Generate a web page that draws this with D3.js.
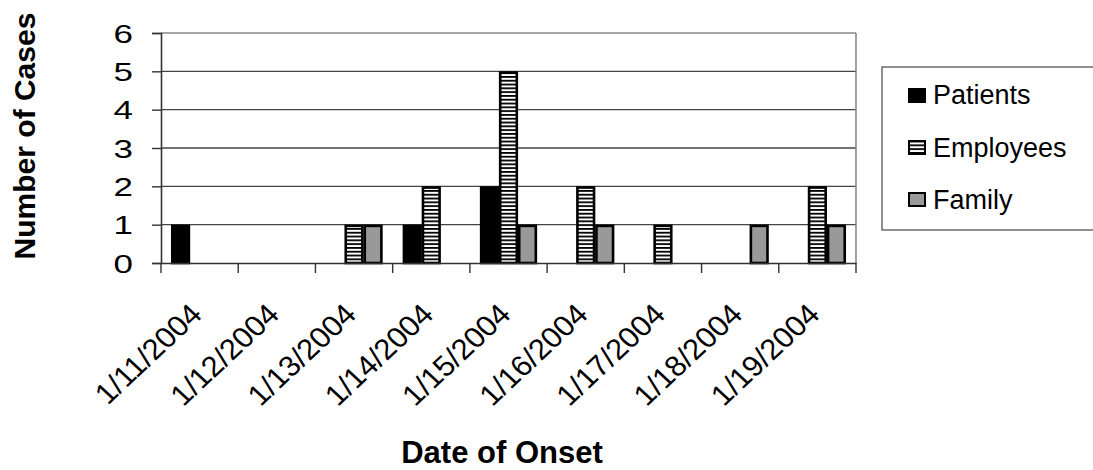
<!DOCTYPE html>
<html>
<head>
<meta charset="utf-8">
<script src="https://cdn.jsdelivr.net/npm/d3@7"></script>
<style>
  html, body { margin: 0; padding: 0; background: #fff; }
  svg { display: block; font-family: "Liberation Sans", Arial, sans-serif; }
</style>
</head>
<body>
<svg id="chart" width="1093" height="470"></svg>
<script>
const dates = ["1/11/2004","1/12/2004","1/13/2004","1/14/2004","1/15/2004","1/16/2004","1/17/2004","1/18/2004","1/19/2004"];
const seriesNames = ["Patients","Employees","Family"];
const patients  = [1,0,0,1,2,0,0,0,0];
const employees = [0,0,1,2,5,2,1,0,2];
const family    = [0,0,1,0,1,1,0,1,1];
const yTicks = [0,1,2,3,4,5,6];

const seriesValues = [patients, employees, family];

const svg = d3.select("#chart");
const L = 161, R = 856, T = 33, B = 263;

const x = d3.scaleBand().domain(dates).range([L, R]).paddingInner(0).paddingOuter(0);
const xs = d3.scaleBand().domain(seriesNames).range([0, x.bandwidth()]).paddingInner(0).paddingOuter(0.53);
const y = d3.scaleLinear().domain([0, 6]).range([B, T]);

// pattern for employees
const defs = svg.append("defs");
const pat = defs.append("pattern").attr("id","stripes").attr("patternUnits","userSpaceOnUse")
  .attr("width", 6).attr("height", 3.8);
pat.append("rect").attr("width", 6).attr("height", 3.8).attr("fill", "#fff");
pat.append("rect").attr("y", 0).attr("width", 6).attr("height", 1.8).attr("fill", "#000");

const fills = {"Patients": "#000", "Employees": "url(#stripes)", "Family": "#999"};

// gridlines
svg.append("g").selectAll("line").data(yTicks.filter(d => d > 0 && d < 6)).join("line")
  .attr("x1", L).attr("x2", R).attr("y1", d => y(d)).attr("y2", d => y(d))
  .attr("stroke", "#444").attr("stroke-width", 1.4);

// plot border top/right
svg.append("line").attr("x1", L).attr("x2", R).attr("y1", y(6)).attr("y2", y(6))
  .attr("stroke", "#888").attr("stroke-width", 1.6);
svg.append("line").attr("x1", R).attr("x2", R).attr("y1", T).attr("y2", B)
  .attr("stroke", "#888").attr("stroke-width", 1.6);

// bars
const barData = [];
seriesNames.forEach((s, si) => {
  dates.forEach((d, di) => {
    const v = seriesValues[si][di];
    if (v > 0) barData.push({date: d, series: s, value: v});
  });
});
svg.append("g").selectAll("rect").data(barData).join("rect")
  .attr("x", d => x(d.date) + xs(d.series) + 1.2)
  .attr("width", xs.bandwidth() - 2.4)
  .attr("y", d => y(d.value) + 1.2)
  .attr("height", d => y(0) - y(d.value) - 1.2)
  .attr("fill", d => fills[d.series])
  .attr("stroke", "#000").attr("stroke-width", 2.6);

// y axis
const yAxis = d3.axisLeft(y).tickValues(yTicks).tickSize(9).tickPadding(0).tickFormat(d3.format("d"));
const gy = svg.append("g").attr("transform", `translate(${L},0)`).call(yAxis);
gy.select(".domain").attr("stroke", "#333").attr("stroke-width", 1.6);
gy.selectAll(".tick line").attr("stroke", "#333").attr("stroke-width", 1.4);
gy.selectAll(".tick text")
  .attr("font-size", 25).attr("fill", "#000")
  .attr("text-anchor", "end").attr("x", 0).attr("dy", "0.36em")
  .attr("transform", "translate(-28,0) scale(1.4,1)");

// x axis
const xAxis = d3.axisBottom(x).tickSize(0).tickFormat(d => d);
const gx = svg.append("g").attr("transform", `translate(0,${B})`).call(xAxis);
gx.select(".domain").attr("stroke", "#333").attr("stroke-width", 1.6);
gx.selectAll(".tick line").remove();
gx.selectAll(".tick text")
  .attr("font-size", 29).attr("fill", "#000")
  .attr("text-anchor", "end").attr("dy", 0).attr("y", 0)
  .attr("transform", "translate(4,53) scale(1.07,1) rotate(-45)");
// boundary ticks
const bounds = dates.map(d => x(d)).concat([R]);
svg.append("g").selectAll("line").data(bounds).join("line")
  .attr("x1", d => d).attr("x2", d => d).attr("y1", B).attr("y2", B + 10)
  .attr("stroke", "#333").attr("stroke-width", 1.4);

// axis titles
svg.append("text").attr("transform", `translate(35,${(T+B)/2 - 12}) rotate(-90)`)
  .attr("text-anchor", "middle").attr("font-size", 30).attr("font-weight", "bold")
  .text("Number of Cases");
svg.append("text").attr("x", 502).attr("y", 463)
  .attr("text-anchor", "middle").attr("font-size", 31).attr("font-weight", "bold")
  .text("Date of Onset");

// legend
const lg = svg.append("g");
lg.append("rect").attr("x", 882).attr("y", 67).attr("width", 230).attr("height", 163)
  .attr("fill", "#fff").attr("stroke", "#555").attr("stroke-width", 1.3);
const items = lg.selectAll("g.item").data(seriesNames).join("g").attr("class", "item");
items.append("rect").attr("x", 909).attr("y", (d, i) => 89 + i * 52)
  .attr("width", 16).attr("height", 13)
  .attr("fill", d => fills[d]).attr("stroke", "#000").attr("stroke-width", 2);
items.append("text").attr("x", 933).attr("y", (d, i) => 104 + i * 52.5)
  .attr("font-size", 27).attr("fill", "#000").text(d => d);
</script>
</body>
</html>
